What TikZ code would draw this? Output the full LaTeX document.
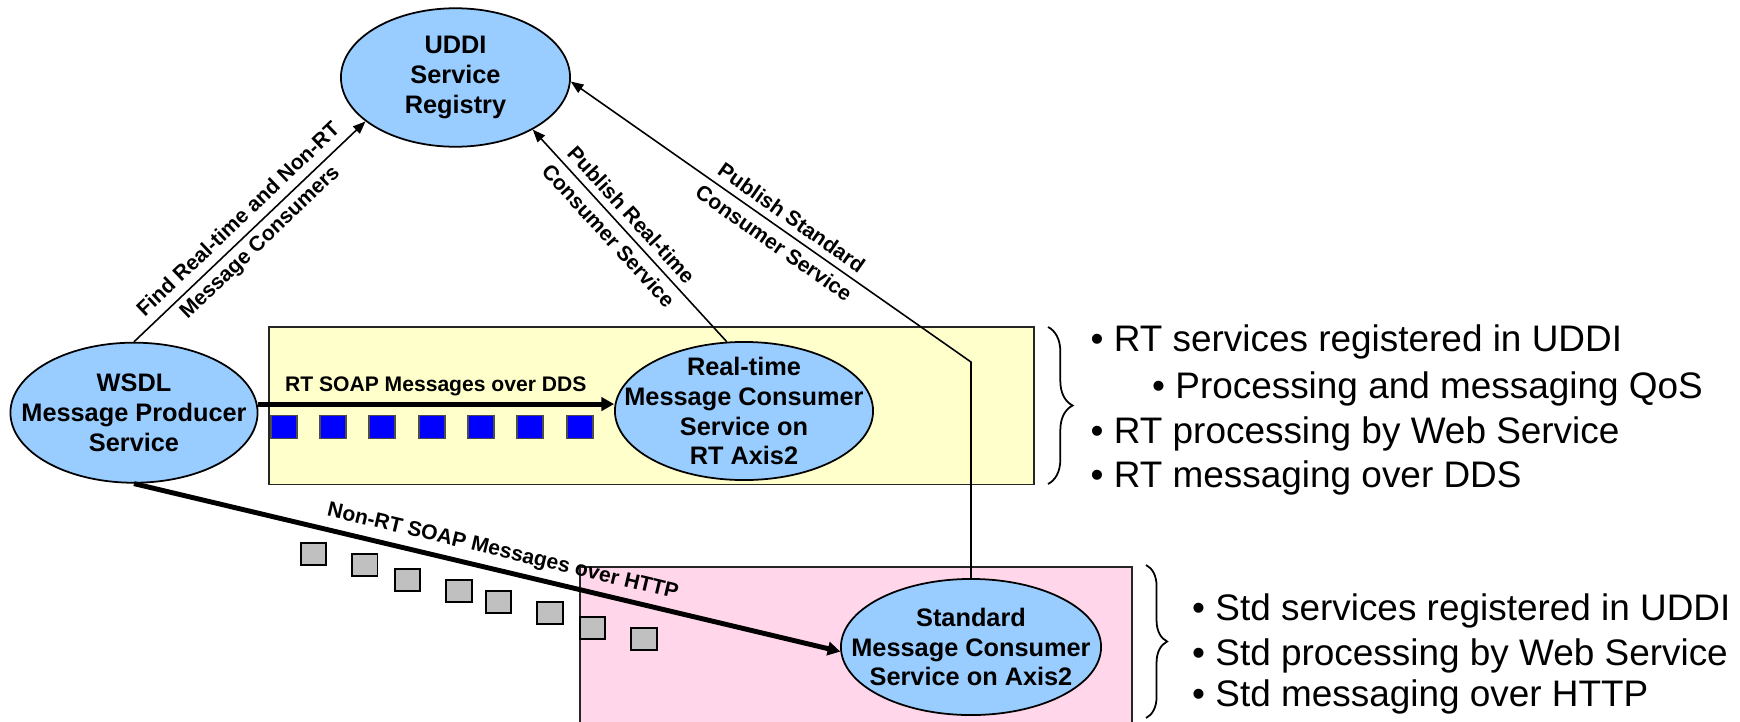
\documentclass[tikz,border=0pt]{standalone}
\usepackage{fontspec}
\setmainfont{Liberation Sans}
\usetikzlibrary{shapes.geometric,arrows.meta,decorations.pathreplacing}

\definecolor{svcblue}{HTML}{99CCFF}
\definecolor{rtzone}{HTML}{FFFFCC}
\definecolor{stdzone}{HTML}{FFD6EA}
\definecolor{rtmsg}{HTML}{0000FF}
\definecolor{stdmsg}{HTML}{C0C0C0}

\begin{document}
\begin{tikzpicture}[x=0.01cm,y=-0.01cm,
  svc/.style={ellipse, draw=black, line width=0.5pt, fill=svcblue, inner sep=0pt},
  svctext/.style={font=\fontsize{7.2}{8.5}\selectfont\bfseries, align=center, inner sep=0pt},
  zone/.style={draw=black!85, line width=0.5pt},
  flow/.style={line width=1.4pt, -{Triangle[length=3.6pt,width=3.8pt]}},
  link/.style={line width=0.45pt, -{Triangle[length=3.6pt,width=2.8pt]}},
  tag/.style={font=\fontsize{6}{8.8}\selectfont\bfseries, align=center, inner sep=0.5pt},
  rtpkt/.style={draw=black!70, line width=0.4pt, fill=rtmsg, minimum width=0.26cm, minimum height=0.226cm, inner sep=0pt},
  stdpkt/.style={draw=black, line width=0.5pt, fill=stdmsg, minimum width=0.257cm, minimum height=0.22cm, inner sep=0pt},
  note/.style={font=\fontsize{10.5}{12.9}\selectfont, anchor=base west, inner sep=0pt},
  curly/.style={decorate, decoration={brace, amplitude=#1}, line width=0.5pt},
]
\useasboundingbox (0,0) rectangle (1740,721);

% real-time and standard zones
\begin{scope}
  \clip (0,0) rectangle (1740,721);
  \draw[zone, fill=stdzone] (580,567) rectangle (1132,740);
\end{scope}
\draw[zone, fill=rtzone] (268.7,327) rectangle (1034,484.5);

% message packets
\foreach \x [count=\i] in {284,333,382,432,481,530,580}
  \node[rtpkt] (rtpkt\i) at (\x,427) {};
\foreach \x/\y [count=\i] in {313.5/554,364.7/565.3,407.5/579.7,458.8/590.7,498.5/602.3,549.8/613.3,592.5/627.7,643.8/638.8}
  \node[stdpkt] (stdpkt\i) at (\x,\y) {};

% services
\node[svc, minimum width=2.29cm, minimum height=1.384cm,
  label={[svctext]center:UDDI\\Service\\Registry}] (uddi) at (455.5,77.5) {};
\node[svc, minimum width=2.47cm, minimum height=1.40cm,
  label={[svctext]center:WSDL\\Message Producer\\Service}] (wsdl) at (134,412.7) {};
\node[svc, minimum width=2.58cm, minimum height=1.38cm,
  label={[svctext]center:Real-time\\Message Consumer\\Service on\\RT Axis2}] (rt) at (744,411) {};
\node[svc, minimum width=2.60cm, minimum height=1.36cm,
  label={[svctext]center:Standard\\Message Consumer\\Service on Axis2}] (std) at (971,647) {};

% registry lookups and publications
\coordinate (bendlevel) at (0,362);
\draw[link] (wsdl.north) -- node[tag, sloped] {Find Real-time and Non-RT\\Message Consumers} (uddi.206);
\draw[link] (rt.104) -- node[tag, sloped, pos=0.55] {Publish Real-time\\Consumer Service} (uddi.-34);
\draw[link] (std.north) -- (std.north |- bendlevel) coordinate (bend)
  -- node[tag, sloped, pos=0.47] {Publish Standard\\Consumer Service} (uddi.-2);

% message flows
\draw[flow] (wsdl.4) -- node[tag, above=1pt] {RT SOAP Messages over DDS} (wsdl.4 -| rt.west);
\draw[flow] (wsdl.south) -- node[tag, sloped, above=1.3pt, pos=0.516] {Non-RT SOAP Messages over HTTP} (std.182);

% notes
\draw[curly=7pt] (1048,327) -- (1048,484);
\draw[curly=6pt] (1146,565) -- (1146,718);
\node[note] (n1) at (1090,351.7) {• RT services registered in UDDI};
\node[note] (n2) at (1151.5,398) {• Processing and messaging QoS};
\node[note] (n3) at (1090,443.3) {• RT processing by Web Service};
\node[note] (n4) at (1090,487) {• RT messaging over DDS};
\node[note] (n5) at (1191.5,620) {• Std services registered in UDDI};
\node[note] (n6) at (1191.5,665) {• Std processing by Web Service};
\node[note] (n7) at (1191.5,706.7) {• Std messaging over HTTP};
\end{tikzpicture}
\end{document}
